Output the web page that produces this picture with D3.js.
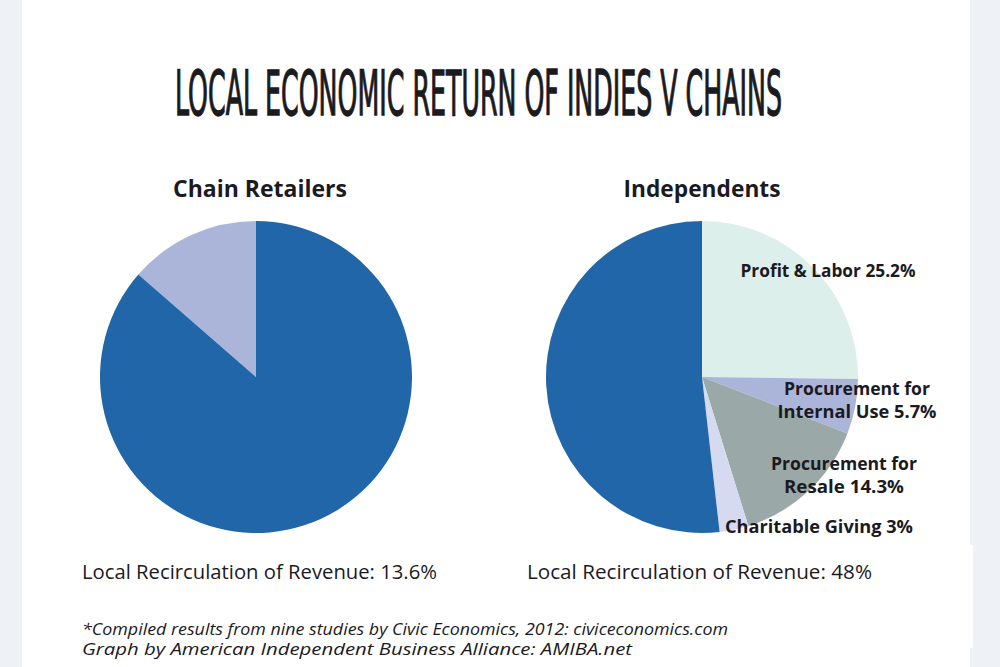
<!DOCTYPE html>
<html><head><meta charset="utf-8">
<script src="https://cdn.jsdelivr.net/npm/d3@7"></script>
<style>body{margin:0;background:#fff}svg{display:block}</style>
</head><body>
<script>
const title = "LOCAL ECONOMIC RETURN OF INDIES V CHAINS";
const chainLabels = ["Local Recirculation", "Other"];
const chainValues = [13.6, 86.4];
const indieLabels = ["Profit & Labor 25.2%", "Procurement for Internal Use 5.7%", "Procurement for Resale 14.3%", "Charitable Giving 3%", "Other"];
const indieValues = [25.2, 5.7, 14.3, 3, 51.8];
const chainColors = ["#aab5d9", "#2166a8"];
const indieColors = ["#dcefeb", "#aab5d9", "#9aa8a7", "#d6daf0", "#2166a8"];
const subtitles = ["Chain Retailers", "Independents"];
const recirc = ["Local Recirculation of Revenue: 13.6%", "Local Recirculation of Revenue: 48%"];
const notes = ["*Compiled results from nine studies by Civic Economics, 2012: civiceconomics.com", "Graph by American Independent Business Alliance: AMIBA.net"];

const W = 1000, H = 667;
const svg = d3.select("body").append("svg").attr("width", W).attr("height", H);
svg.append("rect").attr("width", W).attr("height", H).attr("fill", "#eef2f6");
svg.append("rect").attr("x", 22).attr("width", 948).attr("height", H).attr("fill", "#fff");
svg.append("rect").attr("x", 960).attr("y", 545).attr("width", 13).attr("height", 103).attr("fill", "#fff");

svg.append("g").attr("transform", "translate(175,115) scale(1,2.23)")
  .append("text").attr("x", 0).attr("y", 0)
  .attr("textLength", 607).attr("lengthAdjust", "spacingAndGlyphs")
  .style("font-family", "'Liberation Sans Narrow','DejaVu Sans Condensed','Liberation Sans',sans-serif")
  .style("font-size", "28px").attr("fill", "#1b1a1f")
  .attr("stroke", "#1b1a1f").attr("stroke-width", 0.6)
  .text(title);

const R = 156;
const arc = d3.arc().innerRadius(0).outerRadius(R);

// Chain pie: light slice ends at 12 o'clock
const chainPie = d3.pie().sort(null).value(d => d)
  .startAngle(-chainValues[0] / 100 * 2 * Math.PI)
  .endAngle(2 * Math.PI - chainValues[0] / 100 * 2 * Math.PI);
const g1 = svg.append("g").attr("transform", "translate(256,377)");
g1.selectAll("path").data(chainPie(chainValues)).join("path")
  .attr("d", arc).attr("fill", (d, i) => chainColors[i]);

const indiePie = d3.pie().sort(null).value(d => d);
const g2 = svg.append("g").attr("transform", "translate(702,377)");
g2.selectAll("path").data(indiePie(indieValues)).join("path")
  .attr("d", arc).attr("fill", (d, i) => indieColors[i]);

const boldFont = "'Open Sans','Noto Sans',sans-serif";
const subs = [[260, subtitles[0], 174], [702, subtitles[1], 157]];
subs.forEach(([x, t, w]) => svg.append("text").attr("x", x).attr("y", 197)
  .attr("text-anchor", "middle").attr("textLength", w).attr("lengthAdjust", "spacingAndGlyphs")
  .style("font-family", boldFont)
  .style("font-size", "23px").style("font-weight", "bold").attr("fill", "#1b1a1f").text(t));

const sliceText = [
  {x: 828, y: 277, t: "Profit & Labor 25.2%", w: 175},
  {x: 857, y: 395, t: "Procurement for", w: 146},
  {x: 857, y: 418, t: "Internal Use 5.7%", w: 159},
  {x: 844, y: 470, t: "Procurement for", w: 146},
  {x: 844, y: 493, t: "Resale 14.3%", w: 120},
  {x: 819, y: 533, t: "Charitable Giving 3%", w: 188}
];
sliceText.forEach(d => svg.append("text").attr("x", d.x).attr("y", d.y)
  .attr("text-anchor", "middle").attr("textLength", d.w).attr("lengthAdjust", "spacingAndGlyphs")
  .style("font-family", boldFont)
  .style("font-size", "18px").style("font-weight", "bold").attr("fill", "#1b1a1f").text(d.t));

const regFont = "'Open Sans','Noto Sans',sans-serif";
[[82, recirc[0], 355], [527, recirc[1], 345]].forEach(([x, t, w]) => svg.append("text")
  .attr("x", x).attr("y", 579).attr("textLength", w).attr("lengthAdjust", "spacingAndGlyphs")
  .style("font-family", regFont)
  .style("font-size", "20px").attr("fill", "#1b1a1f").text(t));

const noteW = [646, 550];
notes.forEach((t, i) => svg.append("text").attr("x", 82).attr("y", 635 + i * 20)
  .attr("textLength", noteW[i]).attr("lengthAdjust", "spacingAndGlyphs")
  .style("font-family", regFont).style("font-style", "italic")
  .style("font-size", "16px").attr("fill", "#1b1a1f").text(t));
</script>
</body></html>
